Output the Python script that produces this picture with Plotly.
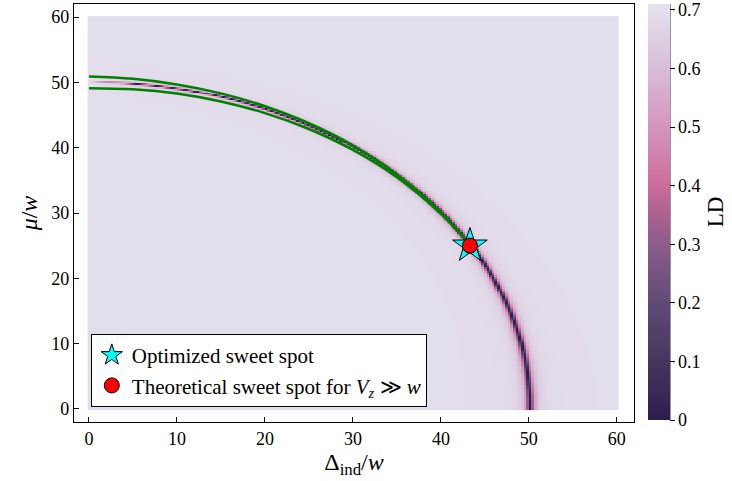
import numpy as np
import plotly.graph_objects as go

# ---- data ----
# heat-map grid (Δ_ind/w and μ/w, both 0..60)
grid_min, grid_max, grid_n = 0.0, 60.0, 201
ring_radius = 50.1          # position of the LD minimum
ld_background = 0.695       # LD far from the ring
ld_max = 0.71               # top of the colour range
ring_width_bottom = 0.33    # width of the dip at μ = 0
ring_width_top = 0.08       # width of the dip near Δ = 0
fade_delta = 5.0            # dip fades out for Δ below this

# green boundary curves
green_delta = [0, 5, 10, 15, 20, 25, 30, 35, 40, 42, 43.3]
green_upper = [50.9, 50.55, 49.69, 48.31, 46.35, 43.74, 40.35, 35.94, 30.12, 27.18, 25.0]
green_lower = [49.1, 48.94, 48.29, 47.08, 45.30, 42.86, 39.65, 35.47, 29.88, 27.07, 25.0]

# sweet spots
opt_delta, opt_mu = [43.3], [25.0]
theo_delta, theo_mu = [43.3], [25.0]

x_ticks = [0, 10, 20, 30, 40, 50, 60]
y_ticks = [0, 10, 20, 30, 40, 50, 60]
cb_ticks = [0, 0.1, 0.2, 0.3, 0.4, 0.5, 0.6, 0.7]

# ---- build heat-map field ----
d = np.linspace(grid_min, grid_max, grid_n)
m = np.linspace(grid_min, grid_max, grid_n)
D, M = np.meshgrid(d, m)
R = np.hypot(D, M)
theta = np.degrees(np.arctan2(M, D))
frac = np.clip(theta / 90.0, 0, 1)
sig = ring_width_bottom + (ring_width_top - ring_width_bottom) * frac
amp = np.clip(D / fade_delta, 0, 1)
dist = R - ring_radius
Z = ld_background * (1 - amp * sig**2 / (dist**2 + sig**2))

acton = [
    [0.00, "#2c1e4c"],
    [0.14, "#45365f"],
    [0.28, "#5f4a77"],
    [0.42, "#8a5d8a"],
    [0.50, "#b0628f"],
    [0.57, "#cd6e9c"],
    [0.70, "#d494bb"],
    [0.85, "#d8bfd7"],
    [1.00, "#e5e3ef"],
]

FONT = "Liberation Serif, DejaVu Serif, serif"
PW = 562  # plot-area width in px

fig = go.Figure()
fig.add_trace(go.Heatmap(
    x=d, y=m, z=Z, colorscale=acton, zmin=0, zmax=ld_max,
    showscale=True, hoverinfo="skip",
    colorbar=dict(
        thickness=22, lenmode="pixels", len=416, ypad=0, xpad=0,
        x=1.025, xanchor="left", y=1.0, yanchor="top",
        outlinewidth=0, ticks="outside", ticklen=5, tickcolor="black",
        ticklabeloverflow="allow",
        tickvals=cb_ticks, ticktext=[f"{v:g}" for v in cb_ticks],
        tickfont=dict(family=FONT, size=18, color="black"),
        title=dict(text="LD", side="right", font=dict(family=FONT, size=23, color="black")),
    ),
    showlegend=False,
))
fig.add_trace(go.Scatter(x=green_delta, y=green_upper, mode="lines",
                         line=dict(color="#008000", width=2.5, shape="spline"),
                         showlegend=False, hoverinfo="skip"))
fig.add_trace(go.Scatter(x=green_delta, y=green_lower, mode="lines",
                         line=dict(color="#008000", width=2.5, shape="spline"),
                         showlegend=False, hoverinfo="skip"))
fig.add_trace(go.Scatter(x=opt_delta, y=opt_mu, mode="markers",
                         marker=dict(symbol="star", size=26, color="#00ffff",
                                     line=dict(color="black", width=1)),
                         name="Optimized sweet spot"))
fig.add_trace(go.Scatter(x=theo_delta, y=theo_mu, mode="markers",
                         marker=dict(symbol="circle", size=15, color="#ff0000",
                                     line=dict(color="black", width=1)),
                         name="Theoretical sweet spot for <i>V</i><sub><i>z</i></sub> ≫ <i>w</i>"))

axis_common = dict(
    showgrid=False, zeroline=False, showline=True, linecolor="black", linewidth=1.2,
    mirror=True, ticks="inside", ticklen=5, tickcolor="black",
    tickfont=dict(family=FONT, size=18, color="black"),
)
fig.update_xaxes(range=[-1.7, 61.95], tickvals=x_ticks,
                 title=dict(text="Δ<sub>ind</sub>/<i>w</i>", font=dict(family=FONT, size=24, color="black"), standoff=2),
                 **axis_common)
fig.update_yaxes(range=[-2, 62], tickvals=y_ticks,
                 title=dict(text="<i>μ</i>/<i>w</i>", font=dict(family=FONT, size=24, color="black"), standoff=6),
                 **axis_common)

cb_right = 1.025 + 22 / PW
fig.add_shape(type="line", xref="paper", yref="paper",
              x0=cb_right, x1=cb_right, y0=1 - 416 / 418, y1=1.0,
              line=dict(color="black", width=1))

fig.update_layout(
    width=732, height=481,
    margin=dict(l=74, r=96, t=4, b=59),
    paper_bgcolor="white", plot_bgcolor="white",
    font=dict(family=FONT, color="black"),
    legend=dict(x=0.030, y=0.036, xanchor="left", yanchor="bottom",
                bgcolor="white", bordercolor="black", borderwidth=1,
                font=dict(family=FONT, size=21, color="black"),
                itemsizing="trace", tracegroupgap=0),
)

fig.write_html("out.html")
